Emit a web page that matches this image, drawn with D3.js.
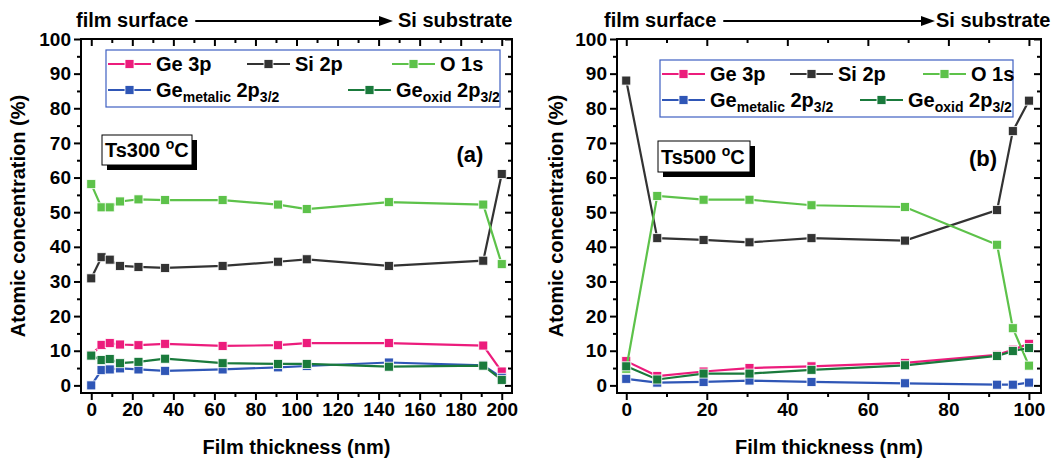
<!DOCTYPE html>
<meta charset="utf-8">
<style>
 body { margin: 0; background: #fff; }
 svg { display: block; font-family: 'Liberation Sans', Arial, sans-serif; font-weight: bold; }
 .tick text { font-size: 19px; font-weight: bold; fill: #000; }
 .tick line { stroke: #000; stroke-width: 2; }
</style>
<svg width="1064" height="458"></svg>
<script src="https://d3js.org/d3.v7.min.js"></script>
<script>
 // series names and colours
 var seriesNames = ['Ge 3p', 'Si 2p', 'O 1s', 'Ge_metalic', 'Ge_oxid'];
 var seriesColors = ['#ec1c7c', '#333333', '#5dc24a', '#2f56b6', '#1a7a3c'];

 // panel (a) Ts300
 var thickA = [0, 5, 9, 14, 23, 36, 64, 91, 105, 145, 191, 200];
 var ge3pA  = [8.8, 11.7, 12.2, 11.8, 11.6, 12.0, 11.4, 11.6, 12.2, 12.2, 11.5, 4.0];
 var si2pA  = [30.9, 37.0, 36.3, 34.5, 34.2, 33.9, 34.5, 35.7, 36.4, 34.5, 36.0, 61.0];
 var o1sA   = [58.1, 51.4, 51.4, 53.1, 53.7, 53.5, 53.5, 52.2, 50.9, 52.9, 52.2, 35.0];
 var geMetA = [0.0, 4.4, 4.6, 4.9, 4.6, 4.2, 4.6, 5.2, 5.6, 6.6, 5.8, 2.2];
 var geOxA  = [8.6, 7.3, 7.6, 6.4, 6.8, 7.7, 6.4, 6.2, 6.2, 5.4, 5.7, 1.6];

 // panel (b) Ts500
 var thickB = [0, 7.7, 19.2, 30.6, 46, 69.2, 92.1, 96, 100];
 var ge3pB  = [7.0, 2.7, 4.0, 5.0, 5.5, 6.5, 8.8, 10.3, 12.0];
 var si2pB  = [88.0, 42.5, 42.0, 41.3, 42.5, 41.8, 50.6, 73.4, 82.2];
 var o1sB   = [4.8, 54.7, 53.6, 53.6, 52.0, 51.5, 40.6, 16.5, 5.7];
 var geMetB = [1.9, 0.8, 1.0, 1.4, 1.0, 0.6, 0.2, 0.2, 0.8];
 var geOxB  = [5.5, 1.7, 3.4, 3.4, 4.5, 5.8, 8.5, 9.9, 10.8];

 // ticks
 var xMajorA = [0, 20, 40, 60, 80, 100, 120, 140, 160, 180, 200];
 var xMinorA = [10, 30, 50, 70, 90, 110, 130, 150, 170, 190];
 var xMajorB = [0, 20, 40, 60, 80, 100];
 var xMinorB = [10, 30, 50, 70, 90];
 var yMajor = [0, 10, 20, 30, 40, 50, 60, 70, 80, 90, 100];
 var yMinor = [5, 15, 25, 35, 45, 55, 65, 75, 85, 95];

 var svg = d3.select('svg');

 var panels = [
     { left: 81, right: 512, top: 39, bottom: 393, xDomain: [-5, 205], yDomain: [-2.2, 100],
       thick: thickA, values: [ge3pA, si2pA, o1sA, geMetA, geOxA],
       xMajor: xMajorA, xMinor: xMinorA,
       head: { x: 76, arrowEnd: 393, x2: 398 },
       yTitleX: 18,
       legend: { x: 106, y: 50, w: 394, h: 57, row: [14, 40],
                 cols: [[2, 0], [141, 0], [286, 0], [2, 1], [242, 1]] },
       ts: { x: 102, y: 135, w: 90, h: 30, label: 'Ts300 ' },
       tag: { x: 470, y: 162, label: '(a)' } },
     { left: 617, right: 1041, top: 39, bottom: 393, xDomain: [-2.3, 103], yDomain: [-2.2, 100],
       thick: thickB, values: [ge3pB, si2pB, o1sB, geMetB, geOxB],
       xMajor: xMajorB, xMinor: xMinorB,
       head: { x: 604, arrowEnd: 935, x2: 936 },
       yTitleX: 556,
       legend: { x: 660, y: 60, w: 353, h: 57, row: [14, 40],
                 cols: [[2, 0], [130, 0], [263, 0], [2, 1], [200, 1]] },
       ts: { x: 658, y: 141, w: 92, h: 31, label: 'Ts500 ' },
       tag: { x: 983, y: 166, label: '(b)' } }
 ];

 function labelParts(name) {
     if (name === 'Ge_metalic') return [['Ge'], ['metalic', 1], [' 2p'], ['3/2', 1]];
     if (name === 'Ge_oxid') return [['Ge'], ['oxid', 1], [' 2p'], ['3/2', 1]];
     return [[name]];
 }

 function marker(sel, color) {
     sel.append('rect')
        .attr('x', -4.5).attr('y', -4.5)
        .attr('width', 9).attr('height', 9)
        .attr('fill', color)
        .attr('stroke', '#fff').attr('stroke-width', 0.8);
 }

 panels.forEach(function(p) {
     var x = d3.scaleLinear().domain(p.xDomain).range([p.left, p.right]);
     var y = d3.scaleLinear().domain(p.yDomain).range([p.bottom, p.top]);
     var g = svg.append('g');

     // axes: major and minor ticks, outward on left/bottom, inward on top/right
     function axis(gen, tr, vals, size, labels) {
         var a = gen.tickValues(vals).tickSize(size).tickSizeOuter(0);
         if (!labels) a.tickFormat('');
         var s = g.append('g').attr('transform', tr).call(a);
         s.select('.domain').remove();
         return s;
     }
     axis(d3.axisBottom(x), 'translate(0,' + p.bottom + ')', p.xMajor, 7, true);
     axis(d3.axisBottom(x), 'translate(0,' + p.bottom + ')', p.xMinor, 4, false);
     axis(d3.axisTop(x), 'translate(0,' + p.top + ')', p.xMajor, -7, false);
     axis(d3.axisTop(x), 'translate(0,' + p.top + ')', p.xMinor, -4, false);
     axis(d3.axisLeft(y), 'translate(' + p.left + ',0)', yMajor, 7, true);
     axis(d3.axisLeft(y), 'translate(' + p.left + ',0)', yMinor, 4, false);
     axis(d3.axisRight(y), 'translate(' + p.right + ',0)', yMajor, -7, false);
     axis(d3.axisRight(y), 'translate(' + p.right + ',0)', yMinor, -4, false);

     g.append('rect')
      .attr('x', p.left).attr('y', p.top)
      .attr('width', p.right - p.left).attr('height', p.bottom - p.top)
      .attr('fill', 'none').attr('stroke', '#000').attr('stroke-width', 2);

     // axis titles
     g.append('text')
      .attr('x', (p.left + p.right) / 2).attr('y', 454)
      .attr('text-anchor', 'middle').attr('font-size', 20)
      .text('Film thickness (nm)');
     g.append('text')
      .attr('transform', 'translate(' + p.yTitleX + ',' + (p.top + p.bottom) / 2 + ') rotate(-90)')
      .attr('text-anchor', 'middle').attr('dy', '0.35em').attr('font-size', 20)
      .text('Atomic concentration (%)');

     // header with arrow
     var t1 = g.append('text').attr('x', p.head.x).attr('y', 27).attr('font-size', 20).text('film surface');
     var t1end = p.head.x + t1.node().getComputedTextLength();
     g.append('line')
      .attr('x1', t1end + 7).attr('x2', p.head.arrowEnd - 12)
      .attr('y1', 21).attr('y2', 21)
      .attr('stroke', '#000').attr('stroke-width', 2);
     g.append('path')
      .attr('d', 'M' + (p.head.arrowEnd - 14) + ',16L' + p.head.arrowEnd + ',21L' + (p.head.arrowEnd - 14) + ',26Z')
      .attr('fill', '#000');
     g.append('text').attr('x', p.head.x2).attr('y', 27).attr('font-size', 20).text('Si substrate');

     // series lines and markers
     var line = d3.line().x(function(d) { return x(d[0]); }).y(function(d) { return y(d[1]); });
     p.values.forEach(function(vals, i) {
         var pts = p.thick.map(function(t, k) { return [t, vals[k]]; });
         g.append('path')
          .attr('d', line(pts))
          .attr('fill', 'none')
          .attr('stroke', seriesColors[i]).attr('stroke-width', 2.2);
         g.selectAll(null).data(pts).enter().append('g')
          .attr('transform', function(d) { return 'translate(' + x(d[0]) + ',' + y(d[1]) + ')'; })
          .each(function() { marker(d3.select(this), seriesColors[i]); });
     });

     // legend
     var L = p.legend;
     var lg = g.append('g').attr('transform', 'translate(' + L.x + ',' + L.y + ')');
     lg.append('rect').attr('width', L.w).attr('height', L.h)
       .attr('fill', '#fff').attr('stroke', '#3e5fc2').attr('stroke-width', 1.2);
     seriesNames.forEach(function(name, i) {
         var c = L.cols[i];
         var e = lg.append('g').attr('transform', 'translate(' + c[0] + ',' + L.row[c[1]] + ')');
         e.append('line').attr('x1', 0).attr('x2', 43)
          .attr('stroke', seriesColors[i]).attr('stroke-width', 2.2);
         var m = e.append('g').attr('transform', 'translate(21.5,0)');
         marker(m, seriesColors[i]);
         var tx = e.append('text').attr('x', 48).attr('y', 7).attr('font-size', 20);
         labelParts(name).forEach(function(part, k, arr) {
             var ts = tx.append('tspan').text(part[0]);
             if (part[1]) {
                 ts.attr('font-size', 14).attr('dy', 5);
             } else if (k > 0 && arr[k - 1][1]) {
                 ts.attr('dy', -5);
             }
         });
     });

     // temperature label with shadow
     var T = p.ts;
     g.append('rect').attr('x', T.x + 5).attr('y', T.y + 5).attr('width', T.w).attr('height', T.h).attr('fill', '#000');
     g.append('rect').attr('x', T.x).attr('y', T.y).attr('width', T.w).attr('height', T.h)
      .attr('fill', '#fff').attr('stroke', '#000').attr('stroke-width', 1);
     var tt = g.append('text').attr('x', T.x + 3).attr('y', T.y + T.h - 8).attr('font-size', 20);
     tt.append('tspan').text(T.label);
     tt.append('tspan').attr('font-size', 14).attr('dy', -8).text('o');
     tt.append('tspan').attr('dy', 8).text('C');

     g.append('text').attr('x', p.tag.x).attr('y', p.tag.y)
      .attr('text-anchor', 'middle').attr('font-size', 22).text(p.tag.label);
 });
</script>
